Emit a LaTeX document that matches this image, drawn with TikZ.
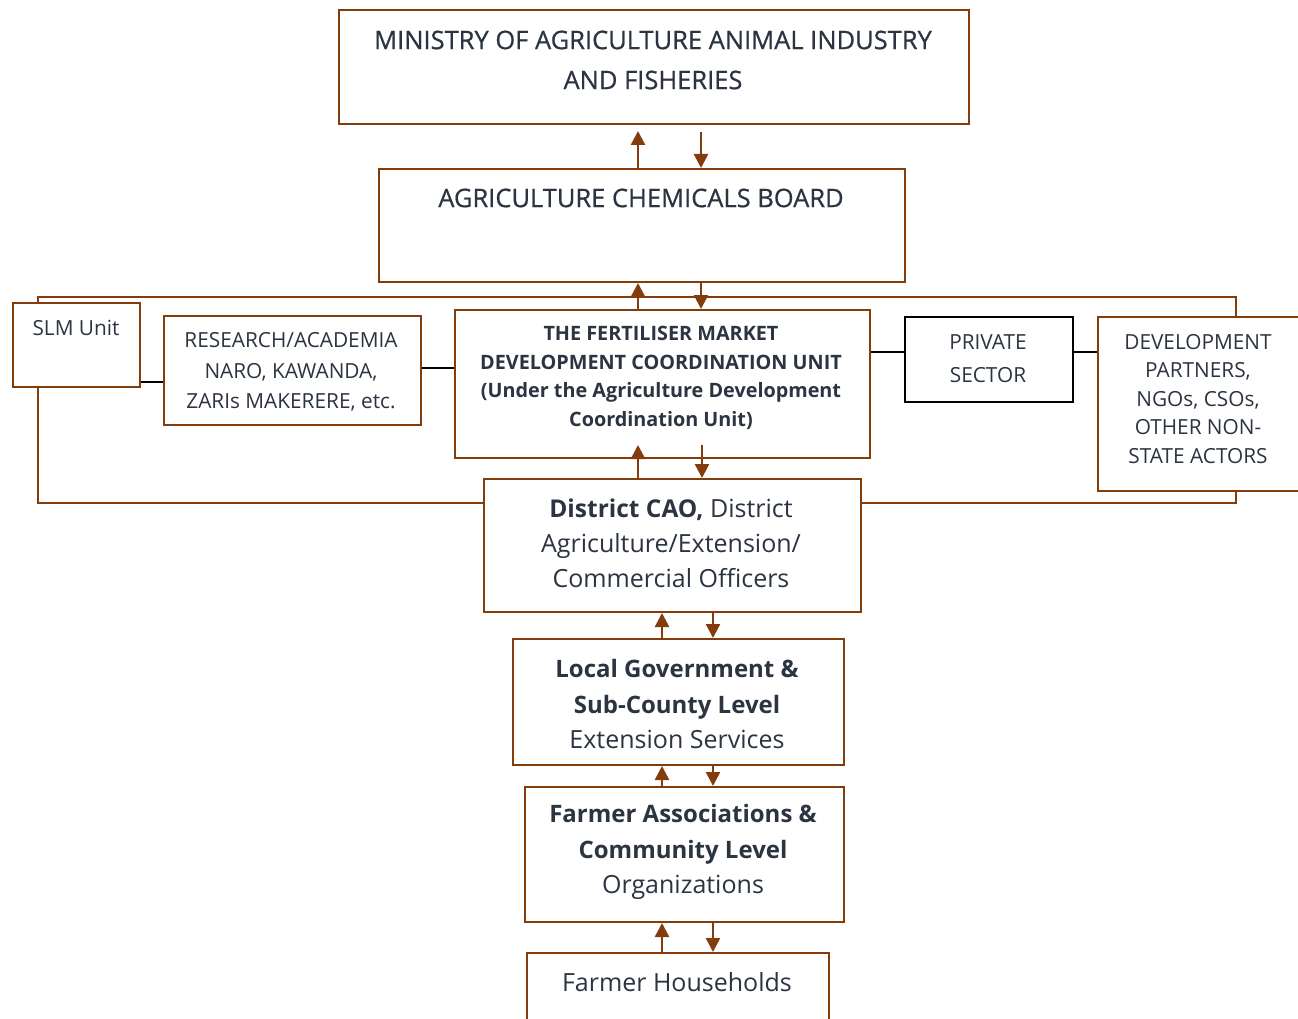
\documentclass[tikz,border=0pt]{standalone}
\usepackage{fontspec}
\setmainfont{Open Sans}
\newfontfamily\semib[FakeBold=0.6]{Open Sans}
\usetikzlibrary{arrows.meta,calc}
\definecolor{brn}{HTML}{843C0C}
\definecolor{txt}{HTML}{2B3440}
\newcommand{\bl}[1]{{\fontsize{24}{35.5}\selectfont\bfseries #1}}
\begin{document}
\begin{tikzpicture}[x=1pt,y=-1pt,
  box/.style={draw=brn,line width=2pt,fill=white,inner sep=0pt,anchor=north west},
  bbox/.style={draw=black,line width=2pt,fill=white,inner sep=0pt,anchor=north west},
  lbl/.style={text=txt,align=center,inner sep=0pt},
  arr/.style={draw=brn,line width=2.5pt,-{Triangle[width=14pt,length=14pt]}},
  link/.style={draw=black,line width=1.6pt}]
\useasboundingbox (0,0) rectangle (1298,1019);
% big frame
\draw[brn,line width=2pt] (38,297) rectangle (1236,503);
% boxes
\node[box,minimum width=630,minimum height=114] (min) at (338,9) {};
\node[box,minimum width=526,minimum height=113] (acb) at (378,168) {};
\node[box,minimum width=127,minimum height=84] (slm) at (12,302) {};
\node[box,minimum width=257,minimum height=109] (res) at (163,315) {};
\node[box,minimum width=415,minimum height=148] (fm) at (454,309) {};
\node[bbox,minimum width=168,minimum height=85] (ps) at (904,316) {};
\node[box,minimum width=205,minimum height=174] (dp) at (1097,316) {};
\node[box,minimum width=377,minimum height=133] (dc) at (483,478) {};
\node[box,minimum width=331,minimum height=126] (lg) at (512,638) {};
\node[box,minimum width=319,minimum height=135] (fa) at (524,786) {};
\node[box,minimum width=302,minimum height=90] (fh) at (526,952) {};
% texts
\node[lbl,font=\semib\fontsize{25.5}{40}\selectfont] (tmin) at (653,60) {MINISTRY OF AGRICULTURE ANIMAL INDUSTRY\\AND FISHERIES};
\node[lbl,font=\semib\fontsize{25.5}{30}\selectfont] (tacb) at (641,198) {AGRICULTURE CHEMICALS BOARD};
\node[lbl,font=\fontsize{20.8}{28}\selectfont] (tslm) at (76,328) {SLM Unit};
\node[lbl,font=\fontsize{20.8}{30.5}\selectfont] (tres) at (291,372) {RESEARCH/ACADEMIA\\NARO, KAWANDA,\\ZARIs MAKERERE, etc.};
\node[lbl,font=\fontsize{19.8}{28.5}\selectfont\bfseries] (tfm) at (661,378) {THE FERTILISER MARKET\\DEVELOPMENT COORDINATION UNIT\\(Under the Agriculture Development\\Coordination Unit)};
\node[lbl,font=\fontsize{20.8}{33}\selectfont] (tps) at (988,359) {PRIVATE\\SECTOR};
\node[lbl,font=\fontsize{20.8}{28.5}\selectfont] (tdp) at (1198,399) {DEVELOPMENT\\PARTNERS,\\NGOs, CSOs,\\OTHER NON-\\STATE ACTORS};
\node[lbl,font=\fontsize{25}{35}\selectfont] (tdc) at (671,543) {{\fontsize{24.5}{35}\selectfont\bfseries District CAO,} District\\Agriculture/Extension/\\Commercial Officers};
\node[lbl,font=\fontsize{25}{35.5}\selectfont] (tlg) at (677,704) {\bl{Local Government \&}\\\bl{Sub-County Level}\\Extension Services};
\node[lbl,font=\fontsize{25}{35.5}\selectfont] (tfa) at (683,852) {\bl{Farmer Associations \&}\\\bl{Community Level}\\Organizations};
\node[lbl,font=\fontsize{25}{30}\selectfont] (tfh) at (677,982) {Farmer Households};
% links
\draw[link] (139,382 -| slm.east) -- (139,382 -| res.west);
\draw[link] (420,368 -| res.east) -- (420,368 -| fm.west);
\draw[link] (869,352 -| fm.east) -- (869,352 -| ps.west);
\draw[link] (1072,352 -| ps.east) -- (1072,352 -| dp.west);
% arrows
\draw[arr] (638,0 |- acb.north) -- (638,131);
\draw[arr] (701,132) -- (701,0 |- acb.north);
\draw[arr] (638,0 |- fm.north) -- (638,283);
\draw[arr] (701,283) -- (701,0 |- fm.north);
\draw[arr] (638,0 |- dc.north) -- (638,445);
\draw[arr] (702,445) -- (702,0 |- dc.north);
\draw[arr] (662,0 |- lg.north) -- (662,0 |- dc.south);
\draw[arr] (713,0 |- dc.south) -- (713,0 |- lg.north);
\draw[arr] (662,0 |- fa.north) -- (662,0 |- lg.south);
\draw[arr] (713,0 |- lg.south) -- (713,0 |- fa.north);
\draw[arr] (662,0 |- fh.north) -- (662,0 |- fa.south);
\draw[arr] (713,0 |- fa.south) -- (713,0 |- fh.north);
\end{tikzpicture}
\end{document}
